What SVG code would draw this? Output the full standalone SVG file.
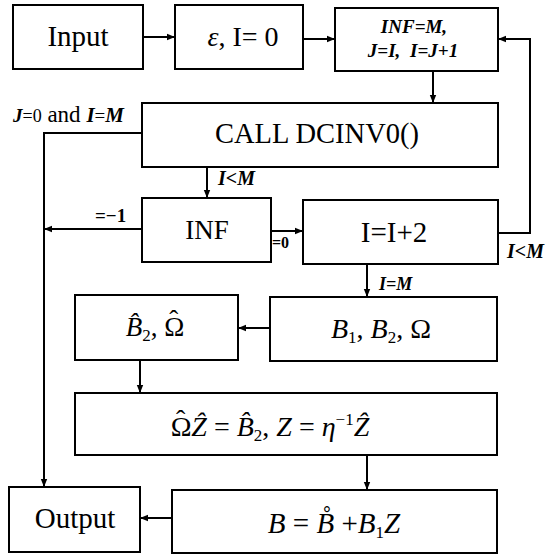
<svg xmlns="http://www.w3.org/2000/svg" width="550" height="555" viewBox="0 0 550 555">
<style>
.box{fill:#fff;stroke:#000;stroke-width:2}
text{font-family:"Liberation Serif","Times New Roman","DejaVu Serif",serif;fill:#000}
.t{text-anchor:middle}
.i{font-style:italic}
.bi{font-style:italic;font-weight:bold}
.c{fill:none;stroke:#000;stroke-width:2}
</style>
<defs>
<marker id="a" viewBox="0 0 10 10" refX="10" refY="5" markerWidth="9" markerHeight="8" orient="auto" markerUnits="userSpaceOnUse">
<path d="M0,1 L10,5 L0,9 z" fill="#000"/>
</marker>
</defs>
<rect width="550" height="555" fill="#fff"/>
<g id="connectors">
<path class="c" d="M143,37 H175" marker-end="url(#a)"/>
<path class="c" d="M303,39 H335" marker-end="url(#a)"/>
<path class="c" d="M433,71 V103" marker-end="url(#a)"/>
<path class="c" d="M142,133 H44 V487" marker-end="url(#a)"/>
<path class="c" d="M207,167 V198" marker-end="url(#a)"/>
<path class="c" d="M142,229 H44" marker-end="url(#a)"/>
<path class="c" d="M271,231 H303" marker-end="url(#a)"/>
<path class="c" d="M498,233 H530 V39 H498" marker-end="url(#a)"/>
<path class="c" d="M367,264 V297" marker-end="url(#a)"/>
<path class="c" d="M270,328 H238" marker-end="url(#a)"/>
<path class="c" d="M140,360 V393" marker-end="url(#a)"/>
<path class="c" d="M367,455 V490" marker-end="url(#a)"/>
<path class="c" d="M172,518 H140" marker-end="url(#a)"/>
<text x="13" y="122" font-size="23"><tspan class="bi" font-size="19">J</tspan><tspan font-size="18">=0</tspan> and <tspan class="bi" font-size="21">I</tspan><tspan font-size="19">=</tspan><tspan class="bi" font-size="21">M</tspan></text>
<text class="bi" x="218" y="185" font-size="20">I&lt;M</text>
<text x="95" y="222" font-size="19" font-weight="bold">=−1</text>
<text x="272" y="248" font-size="16" font-weight="bold">=0</text>
<text class="bi" x="507" y="258" font-size="20">I&lt;M</text>
<text class="bi" x="379" y="290" font-size="18">I=M</text>
</g>
<g id="input">
<rect class="box" x="13" y="5" width="130" height="64"/>
<text class="t" x="78" y="46" font-size="29">Input</text>
</g>
<g id="init">
<rect class="box" x="175" y="5" width="128" height="64"/>
<text class="t" x="243" y="46" font-size="28"><tspan class="i">ε</tspan>, I=  0</text>
</g>
<g id="assign">
<rect class="box" x="335" y="8" width="163" height="63"/>
<text class="t bi" x="414" y="33" font-size="19">INF=M,</text>
<text class="t bi" x="413" y="57" font-size="19" word-spacing="5">J=I, I=J+1</text>
</g>
<g id="call">
<rect class="box" x="142" y="103" width="356" height="64"/>
<text class="t" x="317" y="143" font-size="28.5">CALL DCINV0()</text>
</g>
<g id="inf">
<rect class="box" x="142" y="198" width="129" height="64"/>
<text class="t" x="207" y="239" font-size="27">INF</text>
</g>
<g id="incr">
<rect class="box" x="303" y="200" width="195" height="64"/>
<text class="t" x="394" y="242" font-size="29">I=I+2</text>
</g>
<g id="b1b2">
<rect class="box" x="270" y="297" width="227" height="64"/>
<text class="t" x="381" y="338" font-size="28"><tspan class="i">B</tspan><tspan font-size="17" dy="5">1</tspan><tspan dy="-5">, </tspan><tspan class="i">B</tspan><tspan font-size="17" dy="5">2</tspan><tspan dy="-5">, Ω</tspan></text>
</g>
<g id="b2hat">
<rect class="box" x="75" y="295" width="163" height="65"/>
<text class="t" x="155" y="336" font-size="27"><tspan class="i">B̂</tspan><tspan font-size="17" dy="5">2</tspan><tspan dy="-5">, Ω</tspan><tspan dx="-15" dy="-7">ˆ</tspan><tspan dx="6" dy="7"> </tspan></text>
</g>
<g id="solve">
<rect class="box" x="75" y="393" width="422" height="62"/>
<text class="t" x="270" y="436" font-size="28">Ω<tspan dx="-15.5" dy="-7">ˆ</tspan><tspan class="i" dx="6" dy="7">Ẑ</tspan> = <tspan class="i">B̂</tspan><tspan font-size="17" dy="5">2</tspan><tspan dy="-5">, </tspan><tspan class="i">Z</tspan> = <tspan class="i">η</tspan><tspan font-size="17" dy="-11">−1</tspan><tspan class="i" dy="11">Ẑ</tspan></text>
</g>
<g id="result">
<rect class="box" x="172" y="490" width="325" height="63"/>
<text class="t" x="334" y="533" font-size="29"><tspan class="i">B</tspan> = <tspan class="i">B̊</tspan> +<tspan class="i">B</tspan><tspan font-size="17" dy="5">1</tspan><tspan class="i" dy="-5">Z</tspan></text>
</g>
<g id="output">
<rect class="box" x="9" y="487" width="131" height="65"/>
<text class="t" x="75" y="528" font-size="29">Output</text>
</g>
</svg>
